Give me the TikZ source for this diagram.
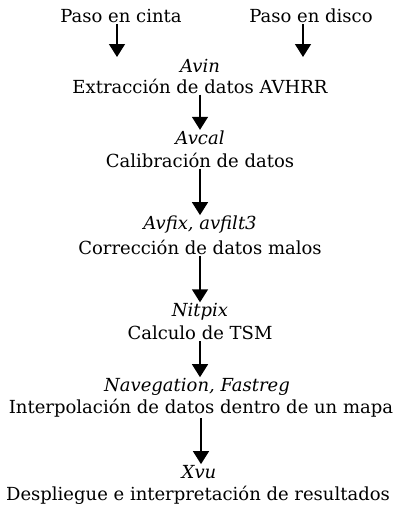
\documentclass[tikz,border=0pt]{standalone}
\usepackage{fontspec}
\setmainfont{DejaVu Serif}
\usetikzlibrary{arrows.meta}
\begin{document}
\begin{tikzpicture}[x=1pt,y=-1pt,
  lbl/.style={inner sep=1pt,font=\fontsize{18}{20}\selectfont},
  prog/.style={inner sep=1pt,font=\fontsize{18}{20}\selectfont\itshape},
  flow/.style={line width=1.4pt,-{Triangle[width=16pt,length=13pt]}}]
\useasboundingbox (0,0) rectangle (393,506);
\node[lbl] (cinta) at (121,16) {Paso en cinta};
\node[lbl] (disco) at (311,16) {Paso en disco};
\coordinate (cend) at (117,57);
\coordinate (dend) at (303,57);
\node[prog] (n1) at (200,66) {Avin};
\node[lbl] (d1) at (200,86) {Extracción de datos AVHRR};
\node[prog] (n2) at (200,138) {Avcal};
\node[lbl] (d2) at (200,160) {Calibración de datos};
\node[prog] (n3) at (200,225) {Avfix, avfilt3};
\node[lbl] (d3) at (200,247) {Corrección de datos malos};
\node[prog] (n4) at (200,312) {Nitpix};
\node[lbl] (d4) at (200,333) {Calculo de TSM};
\node[prog] (n5) at (197,387) {Navegation, Fastreg};
\node[lbl] (d5) at (201,408) {Interpolación de datos dentro de un mapa};
\node[prog] (n6) at (199,472) {Xvu};
\node[lbl] (d6) at (198,495) {Despliegue e interpretación de resultados};
\draw[flow] (cinta.south -| cend) -- (cend);
\draw[flow] (disco.south -| dend) -- (dend);
\draw[flow] (d1.south) -- (n2.north);
\draw[flow] (d2.south) -- (n3.north);
\draw[flow] (d3.south) -- (n4.north);
\draw[flow] (d4.south) -- (d4.south |- n5.north);
\draw[flow] (d5.south) -- (n6.north -| d5);
\end{tikzpicture}
\end{document}
